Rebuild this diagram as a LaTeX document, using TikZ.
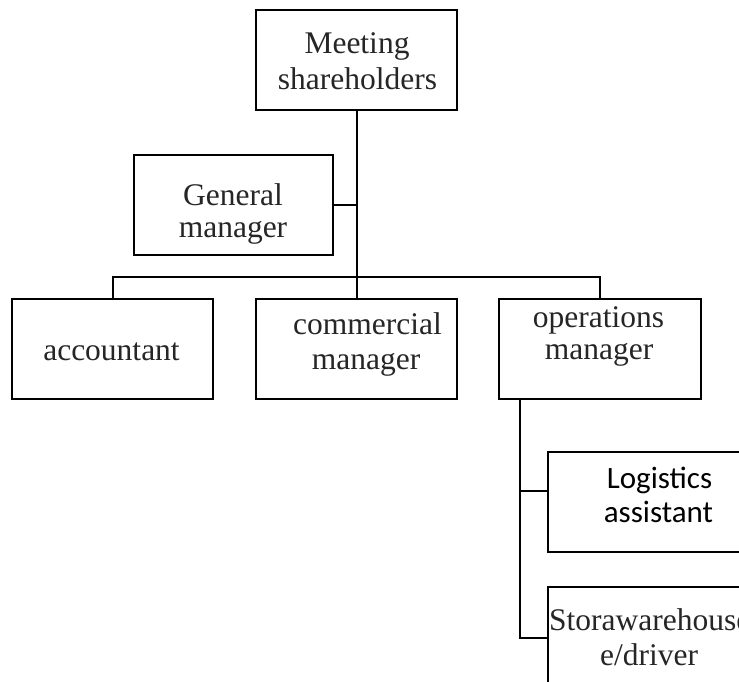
\documentclass[tikz,border=0pt]{standalone}
\usepackage{fontspec}
\setmainfont{Liberation Serif}
\newfontfamily\calibri{Carlito}
\begin{document}
\begin{tikzpicture}[x=1pt,y=-1pt,
  box/.style={draw=black,line width=2pt,minimum width=201pt,minimum height=100pt,inner sep=0pt,outer sep=0pt},
  lbl/.style={anchor=base,inner sep=0pt,text=black!85,font=\fontsize{31.5}{36}\selectfont},
  clbl/.style={anchor=base,inner sep=0pt,text=black,font=\calibri\fontsize{31}{36}\selectfont},
  conn/.style={draw=black,line width=2pt}]
\useasboundingbox (0,0) rectangle (739,681);
\clip (0,0) rectangle (739,681);
\fill[white] (0,0) rectangle (739,681);
% boxes
\node[box] (M) at (356.5,60) {};
\node[box,minimum width=199pt] (G) at (233.5,205) {};
\node[box] (A) at (112.5,348.5) {};
\node[box] (C) at (356.5,348.5) {};
\node[box,minimum width=202pt] (O) at (600,348.5) {};
\node[box] (L) at (648.5,501.5) {};
\node[box] (S) at (648.5,637) {};
% texts
\node[lbl] (m1) at (357,53) {Meeting};
\node[lbl] (m2) at (357.5,89) {shareholders};
\node[lbl] (g1) at (233,205) {General};
\node[lbl] (g2) at (233,237) {manager};
\node[lbl] (a1) at (111.5,360) {accountant};
\node[lbl] (c1) at (367.5,334) {commercial};
\node[lbl] (c2) at (366,369) {manager};
\node[lbl] (o1) at (598.5,327) {operations};
\node[lbl] (o2) at (599,359) {manager};
\node[clbl] (l1) at (659.5,488) {Logistics};
\node[clbl] (l2) at (658.5,522) {assistant};
\node[lbl,anchor=base west] (s1) at (549,630) {Storawarehouse};
\node[lbl] (s2) at (649,665) {e/driver};
% connectors
\coordinate (bus) at (356.5,277);
\coordinate (ov) at (520,399);
\draw[conn] (M.south) -- (C.north);
\draw[conn] (G.east) -- (G.east -| M.south);
\draw[conn] (A.north) |- (bus) -| (O.north);
\draw[conn] (ov) |- (S.west |- 0,638);
\draw[conn] (ov |- 0,491) -- (L.west |- 0,491);
\end{tikzpicture}
\end{document}
